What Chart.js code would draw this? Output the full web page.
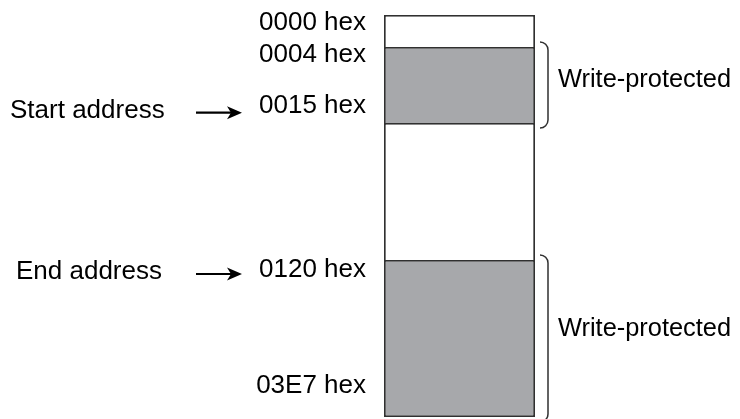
<!DOCTYPE html>
<html>
<head>
<meta charset="utf-8">
<script src="https://cdn.jsdelivr.net/npm/chart.js@4"></script>
<style>
  html, body { margin: 0; padding: 0; background: #ffffff; }
  #wrap { width: 740px; height: 419px; }
</style>
</head>
<body>
<div id="wrap"><canvas id="c" width="740" height="419"></canvas></div>
<script>
// ---- data (schematic memory map, heights) ----
const addressLabels   = ['0000 hex', '0004 hex', '0015 hex', '0120 hex', '03E7 hex'];
const addressLabelPos = [15, 47.3, 97.7, 262, 378];          // baseline position on the map axis
const segmentKinds    = ['free', 'protected', 'free', 'protected'];
const segmentHeights  = [32, 76, 137, 157];                  // schematic block heights
const pointerLabels   = ['Start address', 'End address'];
const pointerTextPos  = [103.3, 264.3];
const pointerArrowPos = [97.7, 259];
const protectedLabel  = 'Write-protected';
const protectedLabelPos = [72, 321];

const total = segmentHeights.reduce((a, b) => a + b, 0);
const GRAY = '#a7a8ab';
const EDGE = '#303030';
const TEXT = '#000000';
const FONT = '26px "Liberation Sans", Arial, Helvetica, sans-serif';
const FONT_R = '25.4px "Liberation Sans", Arial, Helvetica, sans-serif';

const datasets = segmentHeights.map((h, i) => ({
  label: segmentKinds[i],
  data: [h],
  backgroundColor: segmentKinds[i] === 'protected' ? GRAY : '#ffffff',
  borderColor: EDGE,
  borderWidth: { top: 1.8, left: 1.8, right: 1.8, bottom: i === segmentHeights.length - 1 ? 1.8 : 0 },
  borderSkipped: false,
  inflateAmount: 0,
  barPercentage: 1,
  categoryPercentage: 1,
  stack: 'map'
}));

function arrow(ctx, x1, x2, y) {
  ctx.save();
  ctx.strokeStyle = TEXT;
  ctx.fillStyle = TEXT;
  ctx.lineWidth = 2.2;
  ctx.beginPath();
  ctx.moveTo(x1, y);
  ctx.lineTo(x2 - 8, y);
  ctx.stroke();
  ctx.beginPath();
  ctx.moveTo(x2, y);
  ctx.lineTo(x2 - 15, y - 6.5);
  ctx.lineTo(x2 - 11, y);
  ctx.lineTo(x2 - 15, y + 6.5);
  ctx.closePath();
  ctx.fill();
  ctx.restore();
}

function brace(ctx, xl, xr, y1, y2) {
  const r = 8;
  ctx.save();
  ctx.strokeStyle = EDGE;
  ctx.lineWidth = 1.5;
  ctx.beginPath();
  ctx.moveTo(xl, y1);
  ctx.arcTo(xr, y1, xr, y1 + r, r);
  ctx.lineTo(xr, y2 - r);
  ctx.arcTo(xr, y2, xl, y2, r);
  ctx.stroke();
  ctx.restore();
}

const annotate = {
  id: 'annotate',
  afterDatasetsDraw(chart) {
    const ctx = chart.ctx;
    const y = chart.scales.y;
    const area = chart.chartArea;
    ctx.save();
    ctx.font = FONT;
    ctx.fillStyle = TEXT;
    ctx.textBaseline = 'alphabetic';

    // address labels
    ctx.textAlign = 'right';
    addressLabels.forEach((t, i) => {
      ctx.fillText(t, area.left - 18, y.getPixelForValue(addressLabelPos[i]));
    });

    // pointers
    ctx.textAlign = 'left';
    pointerLabels.forEach((t, i) => {
      ctx.fillText(t, i === 0 ? 10 : 16, y.getPixelForValue(pointerTextPos[i]));
      arrow(ctx, 196, 242, y.getPixelForValue(pointerArrowPos[i]));
    });

    // braces + write-protected labels
    let acc = 0, k = 0;
    segmentHeights.forEach((h, i) => {
      const s = acc, e = acc + h;
      acc = e;
      if (segmentKinds[i] !== 'protected') return;
      brace(ctx, area.right + 5, area.right + 13, y.getPixelForValue(s) - 5, y.getPixelForValue(e) + 5);
      ctx.fillStyle = TEXT;
      ctx.font = FONT_R;
      ctx.textAlign = 'left';
      ctx.fillText(protectedLabel, area.right + 23, y.getPixelForValue(protectedLabelPos[k]));
      k++;
    });
    ctx.restore();
  }
};

new Chart(document.getElementById('c'), {
  type: 'bar',
  data: { labels: ['memory'], datasets },
  options: {
    responsive: false,
    animation: false,
    events: [],
    layout: { padding: { left: 384, right: 205, top: 15, bottom: 2 } },
    plugins: { legend: { display: false }, tooltip: { enabled: false } },
    scales: {
      x: { display: false, stacked: true },
      y: { display: false, stacked: true, reverse: true, min: 0, max: total }
    }
  },
  plugins: [annotate]
});
</script>
</body>
</html>
